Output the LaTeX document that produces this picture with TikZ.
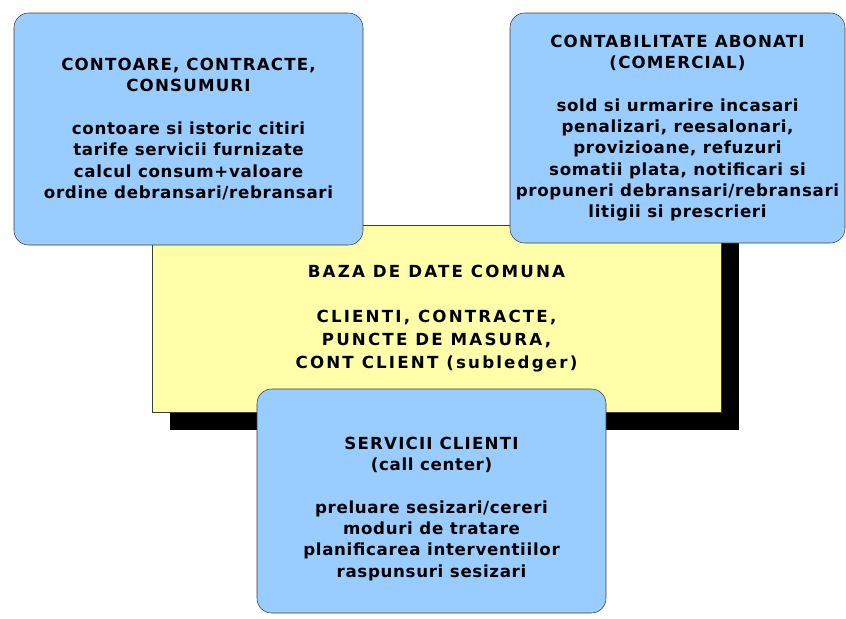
\documentclass[tikz,border=0pt]{standalone}
\usepackage{fontspec}
\usepackage{xcolor}
\usepackage{tikz}
\setmainfont{DejaVu Sans}
\newfontfamily\modfont[LetterSpace=4]{DejaVu Sans}
\newfontfamily\titlefont[LetterSpace=7]{DejaVu Sans}
\newfontfamily\basefont[LetterSpace=13]{DejaVu Sans}
\definecolor{modblue}{RGB}{153,204,255}
\definecolor{baseyellow}{RGB}{255,255,170}
\definecolor{edgegray}{RGB}{60,60,60}

\begin{document}
\begin{tikzpicture}[x=0.75pt,y=-0.75pt]
            \tikzset{module/.style = {draw=edgegray, fill=modblue, rounded corners=11pt, align=center,
                                      minimum width=261.75pt, minimum height=174pt, inner sep=0pt,
                                      font=\modfont\bfseries\fontsize{12.5}{16}\selectfont}}
            \tikzset{base/.style = {draw=edgegray, fill=baseyellow, align=center,
                                    minimum width=426.75pt, minimum height=140.25pt, inner sep=0pt,
                                    font=\basefont\bfseries\fontsize{12.5}{17}\selectfont}}
            \tikzset{shadowbox/.style = {fill=black, minimum width=426.75pt, minimum height=140.25pt, inner sep=0pt}}

            \useasboundingbox (0,0) rectangle (846,618);

            % common database with its shadow
            \node[shadowbox] (umbra) at (454.5,336.5) {};
            \node[base] (baza) at (436.5,318.5) {BAZA DE DATE COMUNA\\[17pt]
              CLIENTI, CONTRACTE,\\ PUNCTE DE MASURA,\\ CONT CLIENT (subledger)};

            % modules
            \node[module] (contoare) at (188.5,129) {{\titlefont CONTOARE, CONTRACTE,}\\ {\titlefont CONSUMURI}\\[16pt]
              contoare si istoric citiri\\ tarife servicii furnizate\\
              calcul consum+valoare\\ ordine debransari/rebransari};
            \node[module, minimum width=251.25pt, minimum height=172.5pt] (contabilitate) at (677.5,128)
              {{\titlefont CONTABILITATE ABONATI}\\ {\titlefont (COMERCIAL)}\\[16pt]
              sold si urmarire incasari\\ penalizari, reesalonari,\\ provizioane, refuzuri\\
              somatii plata, notificari si\\ propuneri debransari/rebransari\\ litigii si prescrieri};
            \node[module, minimum height=168pt] (servicii) at (431.5,501) {\rule{0pt}{21pt}{\titlefont SERVICII CLIENTI}\\ (call center)\\[16pt]
              preluare sesizari/cereri\\ moduri de tratare\\
              planificarea interventiilor\\ raspunsuri sesizari};

\end{tikzpicture}
\end{document}
